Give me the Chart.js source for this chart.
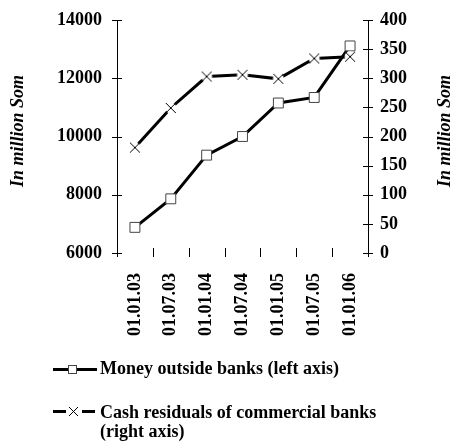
<!DOCTYPE html>
<html lang="en">
<head>
    <meta charset="UTF-8">
    <title>Money outside banks and cash residuals</title>
    <script src="https://cdn.jsdelivr.net/npm/chart.js"></script>
    <style>
        html, body { margin: 0; padding: 0; background: #fff; }
        #wrap { width: 452px; height: 441px; position: relative; }
    </style>
</head>
<body>
<div id="wrap"><canvas id="chart"></canvas></div>
<script>
    // dates and values
    const dates = ["01.01.03", "01.07.03", "01.01.04", "01.07.04", "01.01.05", "01.07.05", "01.01.06"];
    const moneyOutside = [6880, 7860, 9360, 10000, 11150, 11340, 13110];
    const cashResiduals = [181, 249, 303, 306, 299, 334, 337];
    const leftTicks = [6000, 8000, 10000, 12000, 14000];
    const rightTicks = [0, 50, 100, 150, 200, 250, 300, 350, 400];
    const seriesNames = ["Money outside banks (left axis)", "Cash residuals of commercial banks", "(right axis)"];
    const axisTitle = "In million Som";

    const FONT = "'Liberation Serif', 'Times New Roman', serif";
    const tickFont = { family: FONT, size: 18, weight: "bold" };

    // cross marker with a white backing so the line stops short of it
    function crossMarker() {
        const c = document.createElement("canvas");
        c.width = 14; c.height = 14;
        const g = c.getContext("2d");
        g.fillStyle = "#fff";
        g.beginPath(); g.arc(7, 7, 5.5, 0, Math.PI * 2); g.fill();
        g.strokeStyle = "#000"; g.lineWidth = 1;
        g.beginPath();
        g.moveTo(2, 2); g.lineTo(12, 12);
        g.moveTo(12, 2); g.lineTo(2, 12);
        g.stroke();
        return c;
    }
    const cross = crossMarker();

    // tick marks crossing the axes, titles and the legend
    const decor = {
        id: "decor",
        afterDraw(chart) {
            const ctx = chart.ctx;
            const a = chart.chartArea;
            const sx = chart.scales.x, yl = chart.scales.y, yr = chart.scales.y1;
            ctx.save();
            ctx.strokeStyle = "#000";
            ctx.lineWidth = 1;
            ctx.beginPath();
            yl.ticks.forEach((t, i) => {
                const y = Math.round(yl.getPixelForTick(i)) + 0.5;
                ctx.moveTo(a.left - 5, y); ctx.lineTo(a.left + 5, y);
            });
            yr.ticks.forEach((t, i) => {
                const y = Math.round(yr.getPixelForTick(i)) + 0.5;
                ctx.moveTo(a.right - 5, y); ctx.lineTo(a.right + 5, y);
            });
            for (let i = 0; i <= dates.length; i++) {
                const x = Math.round(sx.left + (sx.right - sx.left) * i / dates.length) + 0.5;
                ctx.moveTo(x, a.bottom - 5); ctx.lineTo(x, a.bottom + 4);
            }
            ctx.stroke();

            // axis titles, both reading upwards
            ctx.fillStyle = "#000";
            ctx.font = "italic bold 18px " + FONT;
            ctx.textAlign = "center";
            ctx.textBaseline = "middle";
            [[18, 131], [445, 131]].forEach(([x, y]) => {
                ctx.save();
                ctx.translate(x, y);
                ctx.rotate(-Math.PI / 2);
                ctx.fillText(axisTitle, 0, 0);
                ctx.restore();
            });

            // legend
            ctx.lineWidth = 3;
            ctx.beginPath();
            ctx.moveTo(53, 369.5); ctx.lineTo(97, 369.5);
            ctx.moveTo(53, 411.5); ctx.lineTo(66, 411.5);
            ctx.moveTo(82, 411.5); ctx.lineTo(95, 411.5);
            ctx.stroke();
            ctx.lineWidth = 1;
            ctx.fillStyle = "#fff";
            ctx.strokeStyle = "#444";
            ctx.fillRect(68, 365, 8, 8);
            ctx.strokeRect(68.5, 365.5, 8, 8);
            ctx.strokeStyle = "#000";
            ctx.beginPath();
            ctx.moveTo(69, 407); ctx.lineTo(78, 416);
            ctx.moveTo(78, 407); ctx.lineTo(69, 416);
            ctx.stroke();

            ctx.fillStyle = "#000";
            ctx.font = "bold 18px " + FONT;
            ctx.textAlign = "left";
            ctx.textBaseline = "alphabetic";
            ctx.fillText(seriesNames[0], 100, 374);
            ctx.fillText(seriesNames[1], 100, 418);
            ctx.fillText(seriesNames[2], 100, 437);
            ctx.restore();
        }
    };

    // y scales: fixed width, no extra room above/below for labels
    function fixY(width) {
        return s => { s.width = width; s.paddingTop = 0; s.paddingBottom = 0; };
    }

    new Chart(document.getElementById("chart"), {
        type: "line",
        data: {
            labels: dates,
            datasets: [
                {
                    label: seriesNames[0],
                    data: moneyOutside,
                    yAxisID: "y",
                    borderColor: "#000",
                    borderWidth: 3,
                    pointStyle: "rect",
                    pointRadius: 7,
                    pointBackgroundColor: "#fff",
                    pointBorderColor: "#444",
                    pointBorderWidth: 1,
                    tension: 0,
                    order: 2
                },
                {
                    label: seriesNames[1] + " " + seriesNames[2],
                    data: cashResiduals,
                    yAxisID: "y1",
                    borderColor: "#000",
                    borderWidth: 3,
                    pointStyle: cross,
                    tension: 0,
                    order: 1
                }
            ]
        },
        options: {
            responsive: true,
            maintainAspectRatio: false,
            animation: false,
            layout: { padding: { left: 0, right: 0, top: 20, bottom: 100 } },
            plugins: { legend: { display: false }, tooltip: { enabled: false } },
            scales: {
                x: {
                    offset: true,
                    grid: { display: false },
                    border: { display: false },
                    ticks: {
                        color: "#000",
                        font: tickFont,
                        minRotation: 90, maxRotation: 90,
                        padding: 12
                    },
                    afterFit(s) { s.height = 88; s.paddingLeft = 0; s.paddingRight = 0; }
                },
                y: {
                    position: "left",
                    min: 6000, max: 14000,
                    afterBuildTicks(s) { s.ticks = leftTicks.map(v => ({ value: v })); },
                    grid: { display: false },
                    border: { display: true, color: "#000", width: 1 },
                    ticks: {
                        color: "#000",
                        font: tickFont,
                        padding: 7,
                        callback: v => String(v)
                    },
                    afterFit: fixY(117)
                },
                y1: {
                    position: "right",
                    min: 0, max: 400,
                    afterBuildTicks(s) { s.ticks = rightTicks.map(v => ({ value: v })); },
                    grid: { display: false },
                    border: { display: true, color: "#000", width: 1 },
                    ticks: {
                        color: "#000",
                        font: tickFont,
                        padding: 4,
                        callback: v => String(v)
                    },
                    afterFit: fixY(84)
                }
            }
        },
        plugins: [decor]
    });
</script>
</body>
</html>
